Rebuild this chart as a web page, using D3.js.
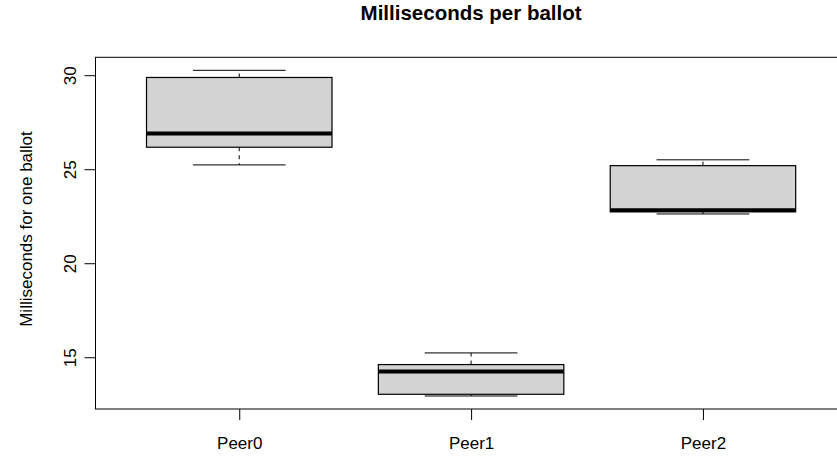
<!DOCTYPE html>
<html>
<head>
<meta charset="utf-8">
<script src="https://cdn.jsdelivr.net/npm/d3@7"></script>
<style>
    body { margin: 0; background: #fff; }
    svg { display: block; font-family: "Liberation Sans", Arial, sans-serif; }
</style>
</head>
<body>
<div id="chart"></div>
<script>
// five-number summaries: [lower whisker, Q1, median, Q3, upper whisker]
const categories = ["Peer0", "Peer1", "Peer2"];
const peer0 = [25.23, 26.17, 26.90, 29.88, 30.26];
const peer1 = [12.94, 13.03, 14.24, 14.61, 15.23];
const peer2 = [22.62, 22.74, 22.82, 25.19, 25.50];
const yTicks = [15, 20, 25, 30];

const title = "Milliseconds per ballot";
const yLabel = "Milliseconds for one ballot";

const width = 837, height = 456;
const plot = { left: 95.5, right: 846.7, top: 57.3, bottom: 409 };

const stats = [peer0, peer1, peer2].map((s, i) => ({
    name: categories[i], pos: i + 1,
    lo: s[0], q1: s[1], med: s[2], q3: s[3], hi: s[4]
}));

// R-style axis limits: data range padded by 4% on both sides
const lo = d3.min(stats, d => d.lo), hi = d3.max(stats, d => d.hi);
const pad = (hi - lo) * 0.04;
const y = d3.scaleLinear().domain([lo - pad, hi + pad]).range([plot.bottom, plot.top]);
const xPad = (categories.length) * 0.04;
const x = d3.scaleLinear()
    .domain([0.5 - xPad, categories.length + 0.5 + xPad])
    .range([plot.left, plot.right]);

const unit = x(2) - x(1);
const boxW = unit * 0.8;
const capW = boxW * 0.5;

const svg = d3.select("#chart").append("svg")
    .attr("width", width)
    .attr("height", height);

// title
svg.append("text")
    .attr("x", (plot.left + plot.right) / 2)
    .attr("y", 20)
    .attr("text-anchor", "middle")
    .style("font-size", "20.5px")
    .style("font-weight", "bold")
    .text(title);

// y axis label
svg.append("text")
    .attr("transform", `translate(32, 229) rotate(-90)`)
    .attr("text-anchor", "middle")
    .style("font-size", "17px")
    .text(yLabel);

// boxes
const g = svg.append("g");
const box = g.selectAll(".box").data(stats).enter().append("g").attr("class", "box");

// dashed whiskers
box.append("line")
    .attr("x1", d => x(d.pos)).attr("x2", d => x(d.pos))
    .attr("y1", d => y(d.q3)).attr("y2", d => y(d.hi))
    .attr("stroke", "#000").attr("stroke-dasharray", "4,4");
box.append("line")
    .attr("x1", d => x(d.pos)).attr("x2", d => x(d.pos))
    .attr("y1", d => y(d.q1)).attr("y2", d => y(d.lo))
    .attr("stroke", "#000").attr("stroke-dasharray", "4,4");

// staples
box.append("line")
    .attr("x1", d => x(d.pos) - capW / 2).attr("x2", d => x(d.pos) + capW / 2)
    .attr("y1", d => y(d.hi)).attr("y2", d => y(d.hi))
    .attr("stroke", "#000");
box.append("line")
    .attr("x1", d => x(d.pos) - capW / 2).attr("x2", d => x(d.pos) + capW / 2)
    .attr("y1", d => y(d.lo)).attr("y2", d => y(d.lo))
    .attr("stroke", "#000");

box.append("rect")
    .attr("x", d => x(d.pos) - boxW / 2)
    .attr("width", boxW)
    .attr("y", d => y(d.q3))
    .attr("height", d => y(d.q1) - y(d.q3))
    .attr("fill", "#d3d3d3")
    .attr("stroke", "#000")
    .attr("stroke-width", 1.2);

// medians
box.append("line")
    .attr("x1", d => x(d.pos) - boxW / 2).attr("x2", d => x(d.pos) + boxW / 2)
    .attr("y1", d => y(d.med)).attr("y2", d => y(d.med))
    .attr("stroke", "#000")
    .attr("stroke-width", 4);

// plot frame
svg.append("rect")
    .attr("x", plot.left).attr("y", plot.top)
    .attr("width", plot.right - plot.left)
    .attr("height", plot.bottom - plot.top)
    .attr("fill", "none")
    .attr("stroke", "#000");

// y axis, labels parallel to the axis
const yAxis = svg.append("g")
    .attr("transform", `translate(${plot.left},0)`)
    .call(d3.axisLeft(y).tickValues(yTicks).tickSize(11).tickSizeOuter(0));
yAxis.select(".domain").remove();
yAxis.selectAll("text")
    .attr("transform", "rotate(-90)")
    .attr("x", 0)
    .attr("y", -20)
    .attr("dy", 0)
    .attr("text-anchor", "middle")
    .attr("fill", "#000")
    .style("font-size", "17px")
    .style("font-family", "Liberation Sans, Arial, sans-serif");

// x axis
const xAxis = svg.append("g")
    .attr("transform", `translate(0,${plot.bottom})`)
    .call(d3.axisBottom(x).tickValues(stats.map(d => d.pos))
        .tickFormat((d, i) => categories[i]).tickSize(11).tickSizeOuter(0));
xAxis.select(".domain").remove();
xAxis.selectAll("text")
    .attr("y", 40)
    .attr("dy", 0)
    .attr("fill", "#000")
    .style("font-size", "17px")
    .style("font-family", "Liberation Sans, Arial, sans-serif");
</script>
</body>
</html>
